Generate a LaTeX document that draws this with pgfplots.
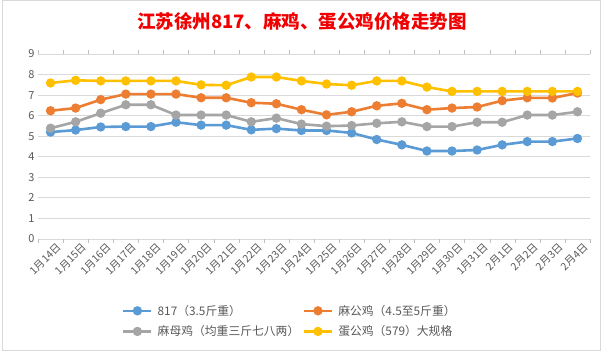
\documentclass[border=0pt]{standalone}
\usepackage{fontspec}
\setmainfont{Noto Sans CJK SC}
\usepackage{pgfplots}
\pgfplotsset{compat=1.18}
\definecolor{cblue}{HTML}{5B9BD5}
\definecolor{corange}{HTML}{ED7D31}
\definecolor{cgray}{HTML}{A5A5A5}
\definecolor{cyellow}{HTML}{FFC000}
\definecolor{gridc}{HTML}{D9D9D9}
\definecolor{axisc}{HTML}{BFBFBF}
\definecolor{txtc}{HTML}{595959}
\definecolor{titlec}{HTML}{F00000}
\begin{document}
\begin{tikzpicture}[x=1pt,y=1pt]
\useasboundingbox (0,0) rectangle (608,353);
\fill[white] (0,0) rectangle (608,353);
\draw[gridc,line width=0.8pt] (2,3) rectangle (600,352.6);
\node[text=titlec,font=\fontsize{18.5}{21}\selectfont\bfseries] at (302,331) {江苏徐州817、麻鸡、蛋公鸡价格走势图};
\begin{axis}[
  at={(38pt,114pt)}, anchor=south west,
  scale only axis, width=552pt, height=185pt,
  xmin=-0.5, xmax=21.5, ymin=0, ymax=9,
  axis line style={draw=none},
  ytick={0,...,9}, ytick style={draw=none},
  ymajorgrids, grid style={gridc, line width=0.8pt},
  xtick={0,...,21}, xtick style={draw=none},
  xticklabels={1月14日,1月15日,1月16日,1月17日,1月18日,1月19日,1月20日,1月21日,1月22日,1月23日,1月24日,1月25日,1月26日,1月27日,1月28日,1月29日,1月30日,1月31日,2月1日,2月2日,2月3日,2月4日},
  x tick label style={rotate=45, anchor=north east, font=\fontsize{10.5}{11}\selectfont, text=txtc, inner sep=1pt, xshift=3pt, yshift=-5pt},
  y tick label style={font=\fontsize{11}{12}\selectfont, text=txtc},
  /pgf/number format/assume math mode=true,
  extra x ticks={-0.5,0.5,...,21.5}, extra x tick labels={},
  extra x tick style={xtick style={draw=axisc}, tick align=outside, major tick length=4pt, grid=none},
  every axis plot/.append style={line width=2.6pt, mark=*, mark size=3.3pt, mark options={solid}},
  legend columns=2,
  legend style={at={(0.152,-0.345)}, anchor=north west, draw=none, font=\fontsize{11.8}{13}\selectfont, text=txtc, row sep=5pt, column sep=3pt, inner sep=0pt},
  legend cell align=left,
  legend image code/.code={\draw[mark repeat=2,mark phase=2,#1] plot coordinates {(0pt,0pt) (14pt,0pt) (28pt,0pt)};},
]
\draw[axisc,line width=0.8pt] (axis cs:-0.5,0) -- (axis cs:21.5,0);
\addplot[cblue] coordinates {(0,5.2)(1,5.3)(2,5.45)(3,5.47)(4,5.47)(5,5.68)(6,5.54)(7,5.54)(8,5.31)(9,5.37)(10,5.28)(11,5.28)(12,5.16)(13,4.84)(14,4.58)(15,4.28)(16,4.28)(17,4.33)(18,4.58)(19,4.74)(20,4.74)(21,4.89)};
\addlegendentry{\makebox[140pt][l]{817（3.5斤重）}}
\addplot[corange] coordinates {(0,6.24)(1,6.37)(2,6.78)(3,7.05)(4,7.05)(5,7.05)(6,6.87)(7,6.87)(8,6.63)(9,6.58)(10,6.29)(11,6.04)(12,6.19)(13,6.48)(14,6.6)(15,6.29)(16,6.37)(17,6.42)(18,6.73)(19,6.87)(20,6.86)(21,7.1)};
\addlegendentry{麻公鸡（4.5至5斤重）}
\addplot[cgray] coordinates {(0,5.39)(1,5.7)(2,6.12)(3,6.53)(4,6.53)(5,6.03)(6,6.03)(7,6.03)(8,5.7)(9,5.88)(10,5.59)(11,5.49)(12,5.52)(13,5.63)(14,5.7)(15,5.47)(16,5.47)(17,5.68)(18,5.68)(19,6.03)(20,6.03)(21,6.19)};
\addlegendentry{\makebox[140pt][l]{麻母鸡（均重三斤七八两）}}
\addplot[cyellow] coordinates {(0,7.59)(1,7.72)(2,7.69)(3,7.69)(4,7.69)(5,7.69)(6,7.5)(7,7.48)(8,7.88)(9,7.88)(10,7.69)(11,7.54)(12,7.48)(13,7.69)(14,7.69)(15,7.39)(16,7.18)(17,7.18)(18,7.18)(19,7.18)(20,7.18)(21,7.18)};
\addlegendentry{蛋公鸡（579）大规格}
\end{axis}
\end{tikzpicture}
\end{document}
